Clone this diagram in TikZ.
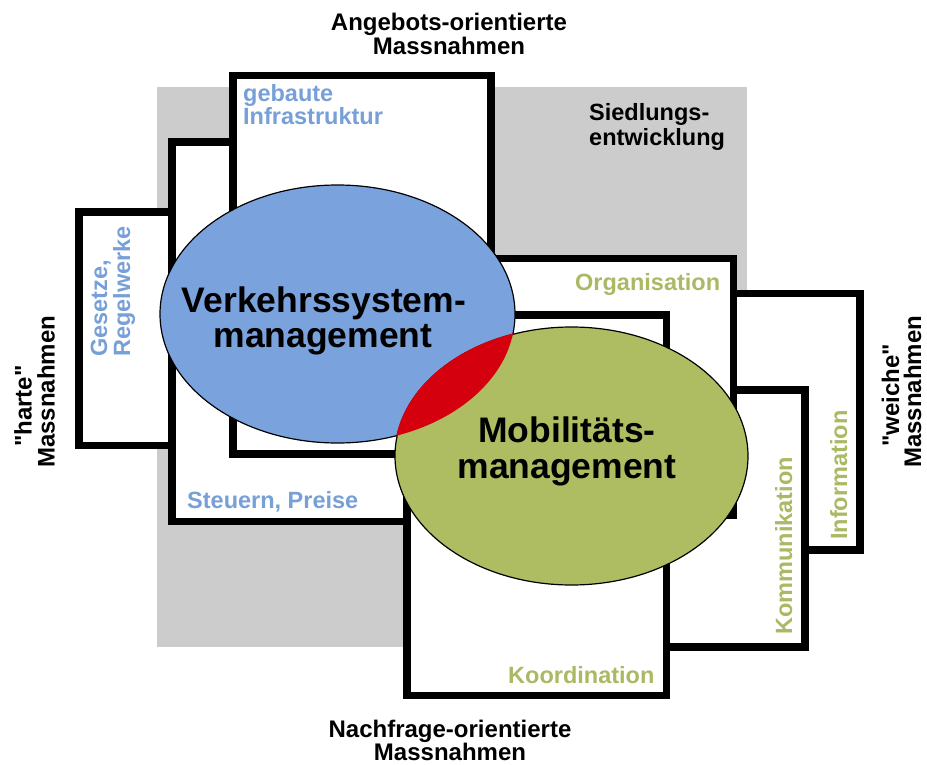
\documentclass[tikz,border=0pt]{standalone}
\usepackage{fontspec}
\setmainfont{Liberation Sans}[Ligatures=TeXOff]
\definecolor{zonegray}{RGB}{204,204,204}
\definecolor{vsblue}{RGB}{122,163,222}
\definecolor{vstext}{RGB}{120,160,216}
\definecolor{mmgreen}{RGB}{174,189,98}
\definecolor{mmtext}{RGB}{170,186,100}
\definecolor{lensred}{RGB}{212,0,14}
\begin{document}
\begin{tikzpicture}[x=1pt,y=-1pt,
  frame/.style={draw=black, fill=white, line width=7.5pt},
  bubble/.style={draw=black, line width=1.2pt},
  lbl/.style={inner sep=0pt, font=\bfseries\fontsize{23.5}{24}\selectfont},
  title/.style={inner sep=0pt, font=\bfseries\fontsize{24}{24}\selectfont},
  big/.style={inner sep=0pt, font=\bfseries\fontsize{35.5}{36}\selectfont},
  vlbl/.style={lbl, rotate=90, anchor=base west}]
\useasboundingbox (0,0) rectangle (927,765);

% grey settlement zone
\fill[zonegray] (157,87) rectangle (747,647);

% soft measures (green side), back to front
\draw[frame] (700,293.5) rectangle (860,550);   % Information
\draw[frame] (620,390) rectangle (805,647);     % Kommunikation
\draw[frame] (450,258.5) rectangle (733.5,515.5); % Organisation

% hard measures (blue side), back to front
\draw[frame] (79,212) rectangle (200,445.5);    % Gesetze
\draw[frame] (172,142) rectangle (450,521.5);   % Steuern
\draw[frame] (233,75.5) rectangle (491,454);    % Infrastruktur

% demand side
\draw[frame] (407,315) rectangle (666.5,695.5); % Koordination

% the two management fields
\draw[bubble, fill=vsblue] (337.5,314) ellipse [x radius=177.5, y radius=129];
\draw[bubble, fill=mmgreen] (571.5,456) ellipse [x radius=176.5, y radius=129];
\begin{scope}
  \clip (337.5,314) ellipse [x radius=177.5, y radius=129];
  \fill[lensred] (571.5,456) ellipse [x radius=176.5, y radius=129];
  \draw[lensred, line width=1.6pt] (571.5,456) ellipse [x radius=176.5, y radius=129];
\end{scope}

% axis titles
\node[title, anchor=base] (ang1) at (449,31) {Angebots-orientierte};
\node[title, anchor=base] (ang2) at (449,54.5) {Massnahmen};
\node[title, anchor=base] (nach1) at (450,737) {Nachfrage-orientierte};
\node[title, anchor=base] (nach2) at (450,760) {Massnahmen};
\node[title, rotate=90, anchor=base west] (hart1) at (31.5,447) {"harte"};
\node[title, rotate=90, anchor=base west] (hart2) at (54.5,468) {Massnahmen};
\node[title, rotate=90, anchor=base west] (weich1) at (899,447) {"weiche"};
\node[title, rotate=90, anchor=base west] (weich2) at (921,468) {Massnahmen};

% field labels
\node[lbl, text=vstext, anchor=base west] (geb1) at (243,102) {gebaute};
\node[lbl, text=vstext, anchor=base west] (geb2) at (243,125) {Infrastruktur};
\node[lbl, anchor=base west] (sied1) at (589,121) {Siedlungs-};
\node[lbl, anchor=base west] (sied2) at (589,146) {entwicklung};
\node[vlbl, text=vstext] (ges1) at (107,357) {Gesetze,};
\node[vlbl, text=vstext] (ges2) at (130,357) {Regelwerke};
\node[lbl, text=vstext, anchor=base west] (steu) at (187,508) {Steuern, Preise};
\node[lbl, text=mmtext, anchor=base west] (org) at (575,290) {Organisation};
\node[lbl, text=mmtext, anchor=base west] (koord) at (508,683) {Koordination};
\node[vlbl, text=mmtext] (komm) at (792,635) {Kommunikation};
\node[vlbl, text=mmtext] (info) at (847,540) {Information};

% management titles
\node[big, anchor=base] (vsm1) at (324,312) {Verkehrssystem-};
\node[big, anchor=base] (vsm2) at (323,347) {management};
\node[big, anchor=base] (mm1) at (567,442) {Mobilitäts-};
\node[big, anchor=base] (mm2) at (567,478) {management};
\end{tikzpicture}
\end{document}
